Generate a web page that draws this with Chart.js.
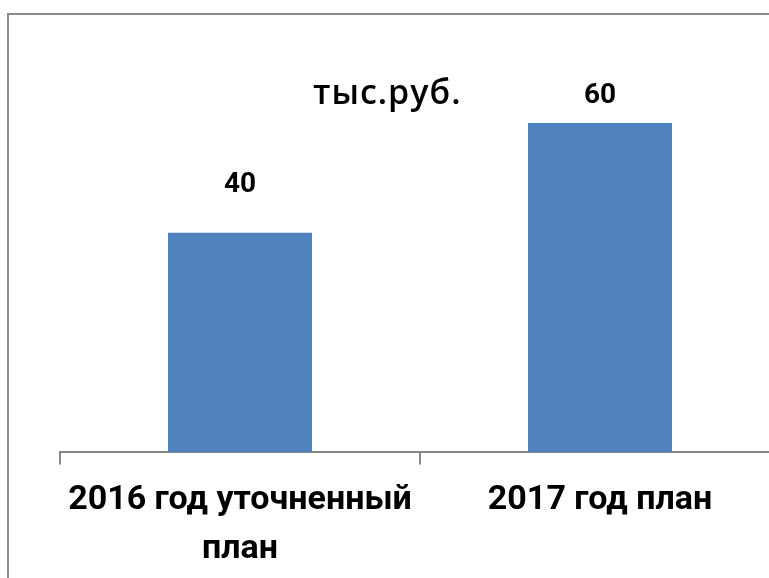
<!DOCTYPE html>
<html>
<head>
<meta charset="utf-8">
<script src="https://cdn.jsdelivr.net/npm/chart.js@4.4.1/dist/chart.umd.min.js"></script>
<style>
  html, body { margin: 0; padding: 0; background: #fff; overflow: hidden; width: 769px; height: 578px; }
  #frame { position: absolute; left: 7px; top: 13px; width: 900px; height: 700px; border: 2px solid #8a8a8a; }
  #chart { position: absolute; left: 0; top: 0; }
</style>
</head>
<body>
<div id="frame"></div>
<canvas id="chart" width="800" height="592"></canvas>
<script>
// данные графика
const categories = [["2016 год уточненный", "план"], ["2017 год план"]]
const values = [40, 60]
const unitLabel = "тыс.руб."

// отступ подписи над столбцом (px)
const labelGaps = [41, 20]

// подписи значений над столбцами
const valueLabels = {
  id: "valueLabels",
  afterDatasetsDraw(chart) {
    const ctx = chart.ctx
    const meta = chart.getDatasetMeta(0)
    ctx.save()
    ctx.font = "bold 28px Roboto"
    ctx.fillStyle = "#000"
    ctx.textAlign = "center"
    ctx.textBaseline = "alphabetic"
    meta.data.forEach((bar, i) => {
      ctx.fillText(String(values[i]), bar.x, bar.y - labelGaps[i])
    })
    // единицы измерения
    ctx.font = "600 34px 'Open Sans'"
    ctx.letterSpacing = "1px"
    ctx.textAlign = "left"
    ctx.fillText(unitLabel, 313, 104)
    ctx.restore()
  },
}

const ctx = document.getElementById("chart").getContext("2d")

new Chart(ctx, {
  type: "bar",
  data: {
    labels: categories,
    datasets: [
      {
        data: values,
        backgroundColor: "#4F81BD",
        borderWidth: 0,
        barPercentage: 0.4,
        categoryPercentage: 1,
      },
    ],
  },
  options: {
    responsive: false,
    animation: false,
    devicePixelRatio: 1,
    layout: {
      padding: { left: 60, right: 20, top: 68, bottom: 7 },
    },
    plugins: {
      legend: { display: false },
      tooltip: { enabled: false },
    },
    scales: {
      y: {
        display: false,
        min: 0,
        max: 70,
      },
      x: {
        border: { color: "#868686", width: 2 },
        grid: {
          drawOnChartArea: false,
          color: "#868686",
          lineWidth: 2,
          tickLength: 12,
        },
        ticks: {
          color: "#000",
          font: { family: "Roboto", size: 34, weight: "bold", lineHeight: 1.45 },
          padding: 11,
          maxRotation: 0,
          minRotation: 0,
          autoSkip: false,
        },
      },
    },
  },
  plugins: [valueLabels],
})
</script>
</body>
</html>
